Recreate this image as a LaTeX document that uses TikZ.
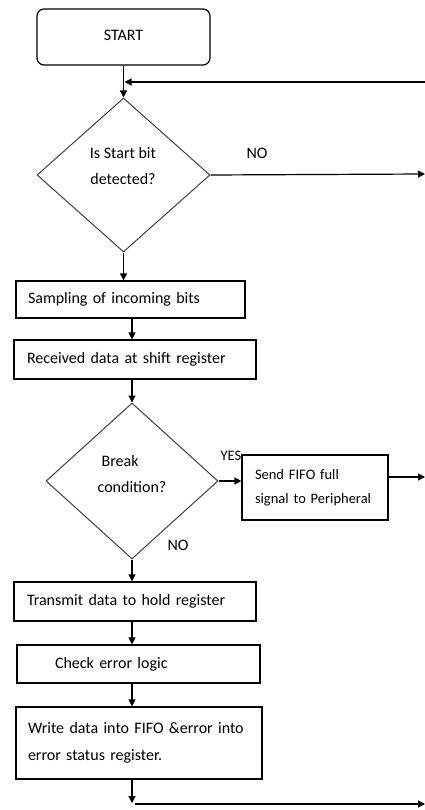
\documentclass[tikz,border=0pt]{standalone}
\usepackage{fontspec}
\setmainfont{Carlito}
\usetikzlibrary{shapes.geometric,arrows.meta}
\begin{document}
\begin{tikzpicture}[x=1pt,y=-1pt,
  arr/.style={line width=1.2pt,-{Triangle[length=7pt,width=7pt]}},
  procbox/.style={draw, line width=1.2pt, rectangle, inner ysep=0pt, align=left,
    font=\fontsize{16}{27}\selectfont},
  startbox/.style={draw, line width=1.2pt, rectangle, rounded corners=7pt,
    minimum width=173pt, minimum height=56pt, inner sep=0pt, font=\fontsize{16}{19}\selectfont},
  decision/.style={draw, line width=1pt, draw=black!75, diamond, inner sep=0pt},
  dtext/.style={font=\fontsize{16}{26}\selectfont, inner sep=0pt},
  lbl/.style={font=\fontsize{16}{19}\selectfont, inner sep=0pt},
  smlbl/.style={font=\fontsize{14.5}{17}\selectfont, inner sep=0pt}
]
\useasboundingbox (0,0) rectangle (425,810);

% nodes
\node[startbox] (start) at (123.5,37) {\raisebox{4pt}{START}};
\node[decision, minimum width=173pt, minimum height=154pt] (d1) at (123.5,175) {};
\node[dtext, align=center] (d1t) at (123,166) {Is Start bit\\detected?};
\node[lbl] (no1) at (257,153) {NO};

\node[procbox, inner xsep=12pt, text width=205pt, minimum height=37pt] (samp) at (130.5,299.5) {Sampling of incoming bits};
\node[procbox, inner xsep=13pt, text width=216pt, minimum height=39pt] (recv) at (135,359.5) {Received data at shift register};

\node[decision, minimum width=172pt, minimum height=156pt] (d2) at (132,481) {};
\node[dtext, align=left] (d2t) at (132,473.5) {\hspace*{4pt}Break\\condition?};
\node[smlbl] (yes) at (231,456) {YES};
\node[lbl] (no2) at (178,545) {NO};
\node[procbox, inner xsep=13pt, text width=120pt, minimum height=65pt,
  font=\fontsize{14.5}{24}\selectfont] (send) at (315,487.5) {Send FIFO full\\signal to Peripheral};

\node[procbox, inner xsep=13pt, text width=216pt, minimum height=39pt] (trans) at (135,601.5) {Transmit data to hold register};
\node[procbox, inner xsep=38pt, text width=167pt, minimum height=38pt] (check) at (138.5,664) {Check error logic};
\node[procbox, inner xsep=12pt, text width=222pt, minimum height=72pt] (write) at (139,743) {Write data into FIFO \&error into\\error status register.};

% coordinates for free ends
\coordinate (loopin) at (425,82);
\coordinate (loopj) at (start.south |- loopin);
\coordinate (noout) at (425,174);
\coordinate (sendout) at (425,477);
\coordinate (endturn) at (132,803);
\coordinate (endl) at (135,804);
\coordinate (endout) at (425,804);

% connectors
\draw[arr] (start.south) -- (d1.north);
\draw[arr] (loopin) -- ([xshift=1pt]loopj);
\draw[arr] (d1.east) -- (noout);
\draw[arr] (d1.south) -- (d1.south |- samp.north);
\draw[arr] (samp.south -| d2.north) -- (recv.north -| d2.north);
\draw[arr] (recv.south -| d2.north) -- (d2.north);
\draw[arr] (d2.east) -- (d2.east -| send.west);
\draw[arr] (send.east |- sendout) -- (sendout);
\draw[arr] (d2.south) -- (d2.south |- trans.north);
\draw[arr] (trans.south -| d2.south) -- (check.north -| d2.south);
\draw[arr] (check.south -| d2.south) -- (write.north -| d2.south);
\draw[arr] (write.south -| d2.south) -- (endturn);
\draw[arr] (endl) -- (endout);
\end{tikzpicture}
\end{document}
